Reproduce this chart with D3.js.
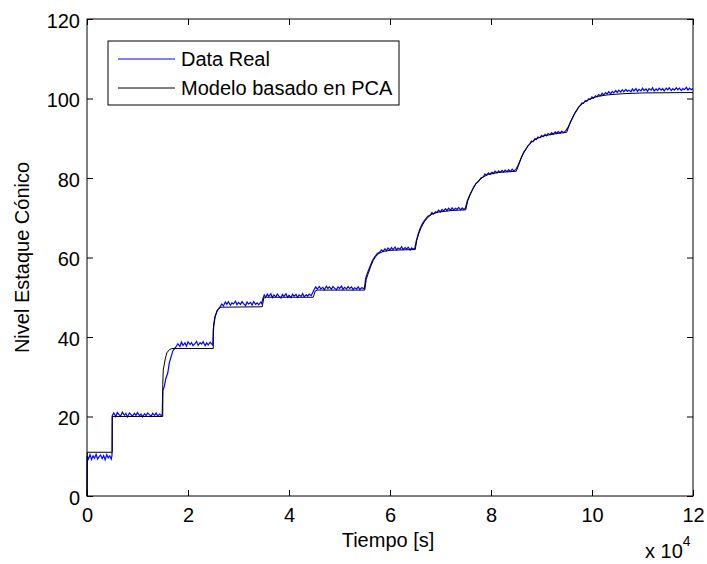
<!DOCTYPE html>
<html>
<head>
<meta charset="utf-8">
<script src="https://cdn.jsdelivr.net/npm/d3@7"></script>
<style>
  body { margin: 0; background: #fff; }
  text { font-family: "Liberation Sans", Arial, sans-serif; }
</style>
</head>
<body>
<div id="chart"></div>
<script>
// Tick values (x in units of 10^4 s)
const xTicks = [0, 2, 4, 6, 8, 10, 12];
const yTicks = [0, 20, 40, 60, 80, 100, 120];

const seriesNames = ["Data Real", "Modelo basado en PCA"];

// Data Real: [tiempo (x10^4 s), nivel]
const dataReal = [
  [0, 0], [0.005, 10], [0.03, 9.3], [0.06, 10.4], [0.09, 9.2], [0.12, 10.1], [0.15, 9.5], [0.18, 10.5],
  [0.21, 9.3], [0.24, 9.9], [0.27, 10.3], [0.3, 9.4], [0.33, 10.2], [0.36, 9.1], [0.39, 10.4],
  [0.42, 9.6], [0.45, 10.1], [0.48, 9.3], [0.495, 10.2], [0.5, 20.2],
  [0.53, 20.9], [0.57, 20.0], [0.6, 21.0], [0.64, 20.4], [0.67, 20.2], [0.7, 21.1], [0.74, 20.3],
  [0.77, 20.8], [0.8, 19.9], [0.84, 20.9], [0.87, 20.5], [0.9, 20.1], [0.94, 20.8], [0.97, 20.3],
  [1.0, 21.0], [1.04, 20.2], [1.07, 20.6], [1.1, 19.9], [1.14, 20.7], [1.17, 20.2], [1.2, 20.9],
  [1.24, 20.4], [1.27, 20.0], [1.3, 20.8], [1.34, 20.3], [1.37, 20.9], [1.4, 20.1], [1.44, 20.6],
  [1.47, 20.2], [1.49, 20.5],
  [1.5, 26.5], [1.53, 27.5], [1.56, 29.5], [1.6, 31], [1.63, 33.5], [1.66, 34.8], [1.7, 36.5],
  [1.75, 37.3], [1.8, 38.3], [1.84, 37.6], [1.87, 38.7], [1.9, 37.9], [1.94, 38.5], [1.97, 37.7],
  [2.0, 38.8], [2.04, 38.1], [2.07, 38.6], [2.1, 37.8], [2.14, 38.4], [2.17, 38.9], [2.2, 37.9],
  [2.24, 38.6], [2.27, 38.2], [2.3, 38.8], [2.34, 37.8], [2.37, 38.5], [2.4, 38.0], [2.44, 38.7],
  [2.47, 38.2], [2.49, 38.0],
  [2.51, 43], [2.54, 45.2], [2.58, 46.6], [2.63, 47.5], [2.67, 48.3], [2.7, 47.8], [2.74, 48.8],
  [2.77, 48.2], [2.8, 48.9], [2.84, 48.0], [2.87, 48.6], [2.9, 48.3], [2.94, 49.0], [2.97, 48.1],
  [3.0, 48.7], [3.04, 48.2], [3.07, 48.9], [3.1, 48.4], [3.14, 47.9], [3.17, 48.8], [3.2, 48.3],
  [3.24, 48.7], [3.27, 48.0], [3.3, 48.9], [3.34, 48.2], [3.37, 48.6], [3.4, 48.1], [3.44, 48.8],
  [3.46, 48.4],
  [3.48, 49.5], [3.51, 50.6], [3.54, 50.0], [3.57, 50.8], [3.6, 50.2], [3.64, 50.9], [3.67, 49.9],
  [3.7, 50.6], [3.74, 50.1], [3.77, 50.8], [3.8, 50.3], [3.84, 49.8], [3.87, 50.7], [3.9, 50.2],
  [3.94, 50.9], [3.97, 50.0], [4.0, 50.5], [4.04, 49.9], [4.07, 50.8], [4.1, 50.3], [4.14, 50.7],
  [4.17, 50.0], [4.2, 50.6], [4.24, 50.2], [4.27, 50.9], [4.3, 50.1], [4.34, 50.6], [4.37, 50.3],
  [4.4, 50.8], [4.44, 50.4],
  [4.47, 51.2], [4.5, 52.0], [4.53, 52.6], [4.56, 52.0], [4.6, 52.7], [4.63, 52.1], [4.67, 52.5],
  [4.7, 51.9], [4.74, 52.8], [4.77, 52.2], [4.8, 52.6], [4.84, 52.0], [4.87, 52.7], [4.9, 52.3],
  [4.94, 51.9], [4.97, 52.6], [5.0, 52.2], [5.04, 52.8], [5.07, 52.0], [5.1, 52.5], [5.14, 52.1],
  [5.17, 52.7], [5.2, 52.2], [5.24, 52.6], [5.27, 51.9], [5.3, 52.4], [5.34, 52.1], [5.37, 52.6],
  [5.4, 52.0], [5.44, 52.4], [5.49, 52.1],
  [5.52, 54.8], [5.55, 56.0], [5.6, 57.6], [5.65, 59.2], [5.7, 60.2], [5.75, 61.0], [5.8, 61.4],
  [5.83, 61.9], [5.86, 61.5], [5.9, 62.2], [5.93, 61.7], [5.96, 62.4], [6.0, 61.9], [6.03, 62.5],
  [6.06, 62.0], [6.1, 62.6], [6.13, 61.9], [6.16, 62.4], [6.2, 62.1], [6.23, 62.7], [6.26, 62.0],
  [6.3, 62.5], [6.33, 62.1], [6.36, 62.6], [6.4, 61.9], [6.43, 62.4], [6.46, 62.1], [6.49, 62.3],
  [6.52, 64.2], [6.56, 66.0], [6.6, 67.4], [6.65, 68.7], [6.7, 69.6], [6.75, 70.4], [6.8, 70.7],
  [6.83, 71.3], [6.86, 70.9], [6.9, 71.5], [6.93, 71.3], [6.96, 71.9], [7.0, 71.5], [7.03, 72.1],
  [7.06, 71.7], [7.1, 72.3], [7.13, 71.8], [7.16, 72.4], [7.2, 71.9], [7.23, 72.5], [7.26, 72.0],
  [7.3, 72.4], [7.33, 72.1], [7.36, 72.6], [7.4, 72.0], [7.43, 72.5], [7.46, 72.1], [7.49, 72.3],
  [7.53, 74.2], [7.58, 75.7], [7.62, 76.8], [7.66, 77.8], [7.7, 78.6], [7.75, 79.1], [7.8, 80.0],
  [7.85, 80.3], [7.88, 81.0], [7.91, 80.7], [7.95, 81.3], [7.98, 80.9], [8.02, 81.5], [8.05, 81.1],
  [8.08, 81.7], [8.12, 81.3], [8.15, 81.8], [8.18, 81.4], [8.22, 81.9], [8.25, 81.5], [8.28, 82.0],
  [8.32, 81.6], [8.35, 82.1], [8.38, 81.6], [8.42, 82.2], [8.45, 81.8], [8.49, 82.1],
  [8.53, 83.0], [8.57, 84.2], [8.61, 85.4], [8.65, 86.5], [8.69, 87.2], [8.73, 88.1], [8.77, 88.6],
  [8.8, 89.3], [8.83, 89.1], [8.87, 89.9], [8.9, 89.7], [8.93, 90.3], [8.97, 90.1], [9.0, 90.7],
  [9.03, 90.4], [9.07, 91.0], [9.1, 90.6], [9.13, 91.2], [9.17, 90.9], [9.2, 91.4], [9.23, 91.0],
  [9.27, 91.6], [9.3, 91.2], [9.33, 91.7], [9.37, 91.3], [9.4, 91.8], [9.44, 91.4], [9.48, 91.9],
  [9.53, 92.8], [9.57, 94.0], [9.61, 95.0], [9.65, 96.1], [9.69, 96.8], [9.73, 97.8], [9.77, 98.3],
  [9.8, 98.9], [9.83, 98.8], [9.87, 99.5], [9.9, 99.3], [9.93, 99.9], [9.97, 99.8], [10.0, 100.4],
  [10.03, 100.1], [10.07, 100.7], [10.1, 100.4], [10.13, 101.0], [10.17, 100.7], [10.2, 101.3],
  [10.23, 100.9], [10.27, 101.5], [10.3, 101.1], [10.33, 101.7], [10.37, 101.2], [10.4, 101.8],
  [10.43, 101.4], [10.47, 102.0], [10.5, 101.5], [10.53, 102.1], [10.57, 101.6], [10.6, 102.2],
  [10.63, 101.7], [10.67, 102.3], [10.7, 101.8], [10.73, 102.1], [10.77, 101.7], [10.8, 102.4],
  [10.83, 101.9], [10.87, 102.5], [10.9, 101.8], [10.93, 102.3], [10.97, 101.9], [11.0, 102.6],
  [11.03, 102.0], [11.07, 102.4], [11.1, 101.8], [11.13, 102.5], [11.17, 102.1], [11.2, 102.7],
  [11.23, 101.9], [11.27, 102.4], [11.3, 102.0], [11.33, 102.6], [11.37, 102.1], [11.4, 102.5],
  [11.43, 101.9], [11.47, 102.6], [11.5, 102.2], [11.53, 102.7], [11.57, 102.0], [11.6, 102.5],
  [11.63, 102.1], [11.67, 102.7], [11.7, 102.2], [11.73, 102.6], [11.77, 102.0], [11.8, 102.5],
  [11.83, 102.2], [11.87, 102.8], [11.9, 102.1], [11.93, 102.6], [11.97, 102.2], [12.0, 102.5]
];

// Modelo basado en PCA: [tiempo (x10^4 s), nivel]
const modeloPCA = [
  [0, 0], [0.005, 11], [0.5, 11], [0.5, 20], [1.5, 20], [1.5, 28], [1.51, 31.7], [1.55, 34.5],
  [1.58, 36], [1.63, 36.8], [1.68, 37.1], [1.8, 37.1], [2.5, 37.1], [2.5, 42], [2.53, 45],
  [2.58, 46.8], [2.65, 47.5], [3.47, 47.6], [3.5, 49.8], [3.55, 50.0], [4.48, 50.0], [4.52, 51.6],
  [4.56, 51.8], [5.5, 51.8], [5.53, 54.5], [5.57, 56], [5.62, 57.8], [5.67, 59.3], [5.72, 60.3],
  [5.78, 61], [5.86, 61.5], [6.0, 61.8], [6.2, 61.9], [6.5, 62.0], [6.53, 64.3], [6.57, 66],
  [6.62, 67.6], [6.68, 69], [6.75, 70.1], [6.83, 70.9], [6.95, 71.4], [7.2, 71.8], [7.5, 72.0],
  [7.54, 74.3], [7.58, 75.6], [7.64, 77.2], [7.7, 78.5], [7.77, 79.5], [7.85, 80.3], [7.95, 80.9],
  [8.15, 81.4], [8.5, 81.7], [8.54, 83], [8.6, 85.1], [8.66, 86.7], [8.73, 88], [8.8, 89],
  [8.9, 89.9], [9.05, 90.6], [9.25, 91.1], [9.5, 91.5], [9.54, 93], [9.6, 94.8], [9.67, 96.6],
  [9.75, 98], [9.85, 99.1], [9.95, 99.8], [10.1, 100.5], [10.3, 100.9], [10.6, 101.2],
  [11, 101.4], [12, 101.5]
];

const W = 707, H = 564;
const margin = { top: 19, right: 14, bottom: 68, left: 87 };
const width = W - margin.left - margin.right,
      height = H - margin.top - margin.bottom;

const svg = d3.select("#chart")
  .append("svg")
  .attr("width", W)
  .attr("height", H);

const g = svg.append("g")
  .attr("transform", `translate(${margin.left}, ${margin.top})`);

const x = d3.scaleLinear().domain([0, 12]).range([0, width]);
const y = d3.scaleLinear().domain([0, 120]).range([height, 0]);

const fontSize = 20;
const tickLen = 6;

// Lines
const line = d3.line()
  .x(d => x(d[0]))
  .y(d => y(d[1]));

g.append("path")
  .datum(dataReal)
  .attr("fill", "none")
  .attr("stroke", "#0000ff")
  .attr("stroke-width", 1.2)
  .attr("d", line);

g.append("path")
  .datum(modeloPCA)
  .attr("fill", "none")
  .attr("stroke", "#000")
  .attr("stroke-width", 1)
  .attr("d", line);

// Axes (MATLAB style: ticks inward, mirrored on top/right)
const styleAxis = sel => {
  sel.select(".domain").remove();
  sel.selectAll(".tick line").attr("stroke", "#000");
  sel.selectAll(".tick text")
    .attr("fill", "#000")
    .style("font-size", fontSize + "px")
    .style("font-family", "'Liberation Sans', Arial, sans-serif");
};

g.append("g")
  .attr("transform", `translate(0, ${height})`)
  .call(d3.axisBottom(x).tickValues(xTicks).tickSize(-tickLen).tickPadding(0).tickFormat(d3.format("d")))
  .call(styleAxis)
  .call(s => s.selectAll(".tick text").attr("dy", null).attr("y", 26));

g.append("g")
  .call(d3.axisLeft(y).tickValues(yTicks).tickSize(-tickLen).tickFormat(d3.format("d")))
  .call(styleAxis)
  .call(s => s.selectAll(".tick text").attr("x", -7).attr("dy", "0.32em").attr("y", 2));

g.append("g")
  .call(d3.axisTop(x).tickValues(xTicks).tickSize(-tickLen).tickFormat(""))
  .call(styleAxis);

g.append("g")
  .attr("transform", `translate(${width}, 0)`)
  .call(d3.axisRight(y).tickValues(yTicks).tickSize(-tickLen).tickFormat(""))
  .call(styleAxis);

// Box
g.append("rect")
  .attr("width", width)
  .attr("height", height)
  .attr("fill", "none")
  .attr("stroke", "#000")
  .attr("stroke-width", 1);

// Axis labels
svg.append("text")
  .attr("x", margin.left + width / 2 - 2)
  .attr("y", 547)
  .attr("text-anchor", "middle")
  .style("font-size", fontSize + "px")
  .text("Tiempo [s]");

svg.append("text")
  .attr("transform", `translate(29, ${margin.top + height / 2}) rotate(-90)`)
  .attr("text-anchor", "middle")
  .style("font-size", fontSize + "px")
  .text("Nivel Estaque Cónico");

// x 10^4 multiplier
const mult = svg.append("text")
  .attr("x", 645)
  .attr("y", 558)
  .style("font-size", fontSize + "px");
mult.append("tspan").text("x 10");
mult.append("tspan")
  .attr("dy", -12)
  .style("font-size", "14px")
  .text("4");

// Legend
const legend = svg.append("g").attr("transform", "translate(108, 41)");
legend.append("rect")
  .attr("width", 291)
  .attr("height", 64)
  .attr("fill", "#fff")
  .attr("stroke", "#000")
  .attr("stroke-width", 1);

const legendColors = ["#0000ff", "#000"];
seriesNames.forEach((name, i) => {
  const cy = 18 + i * 29;
  legend.append("line")
    .attr("x1", 10).attr("x2", 67)
    .attr("y1", cy).attr("y2", cy)
    .attr("stroke", legendColors[i])
    .attr("stroke-width", 1);
  legend.append("text")
    .attr("x", 73)
    .attr("y", cy + 7)
    .style("font-size", fontSize + "px")
    .text(name);
});
</script>
</body>
</html>
